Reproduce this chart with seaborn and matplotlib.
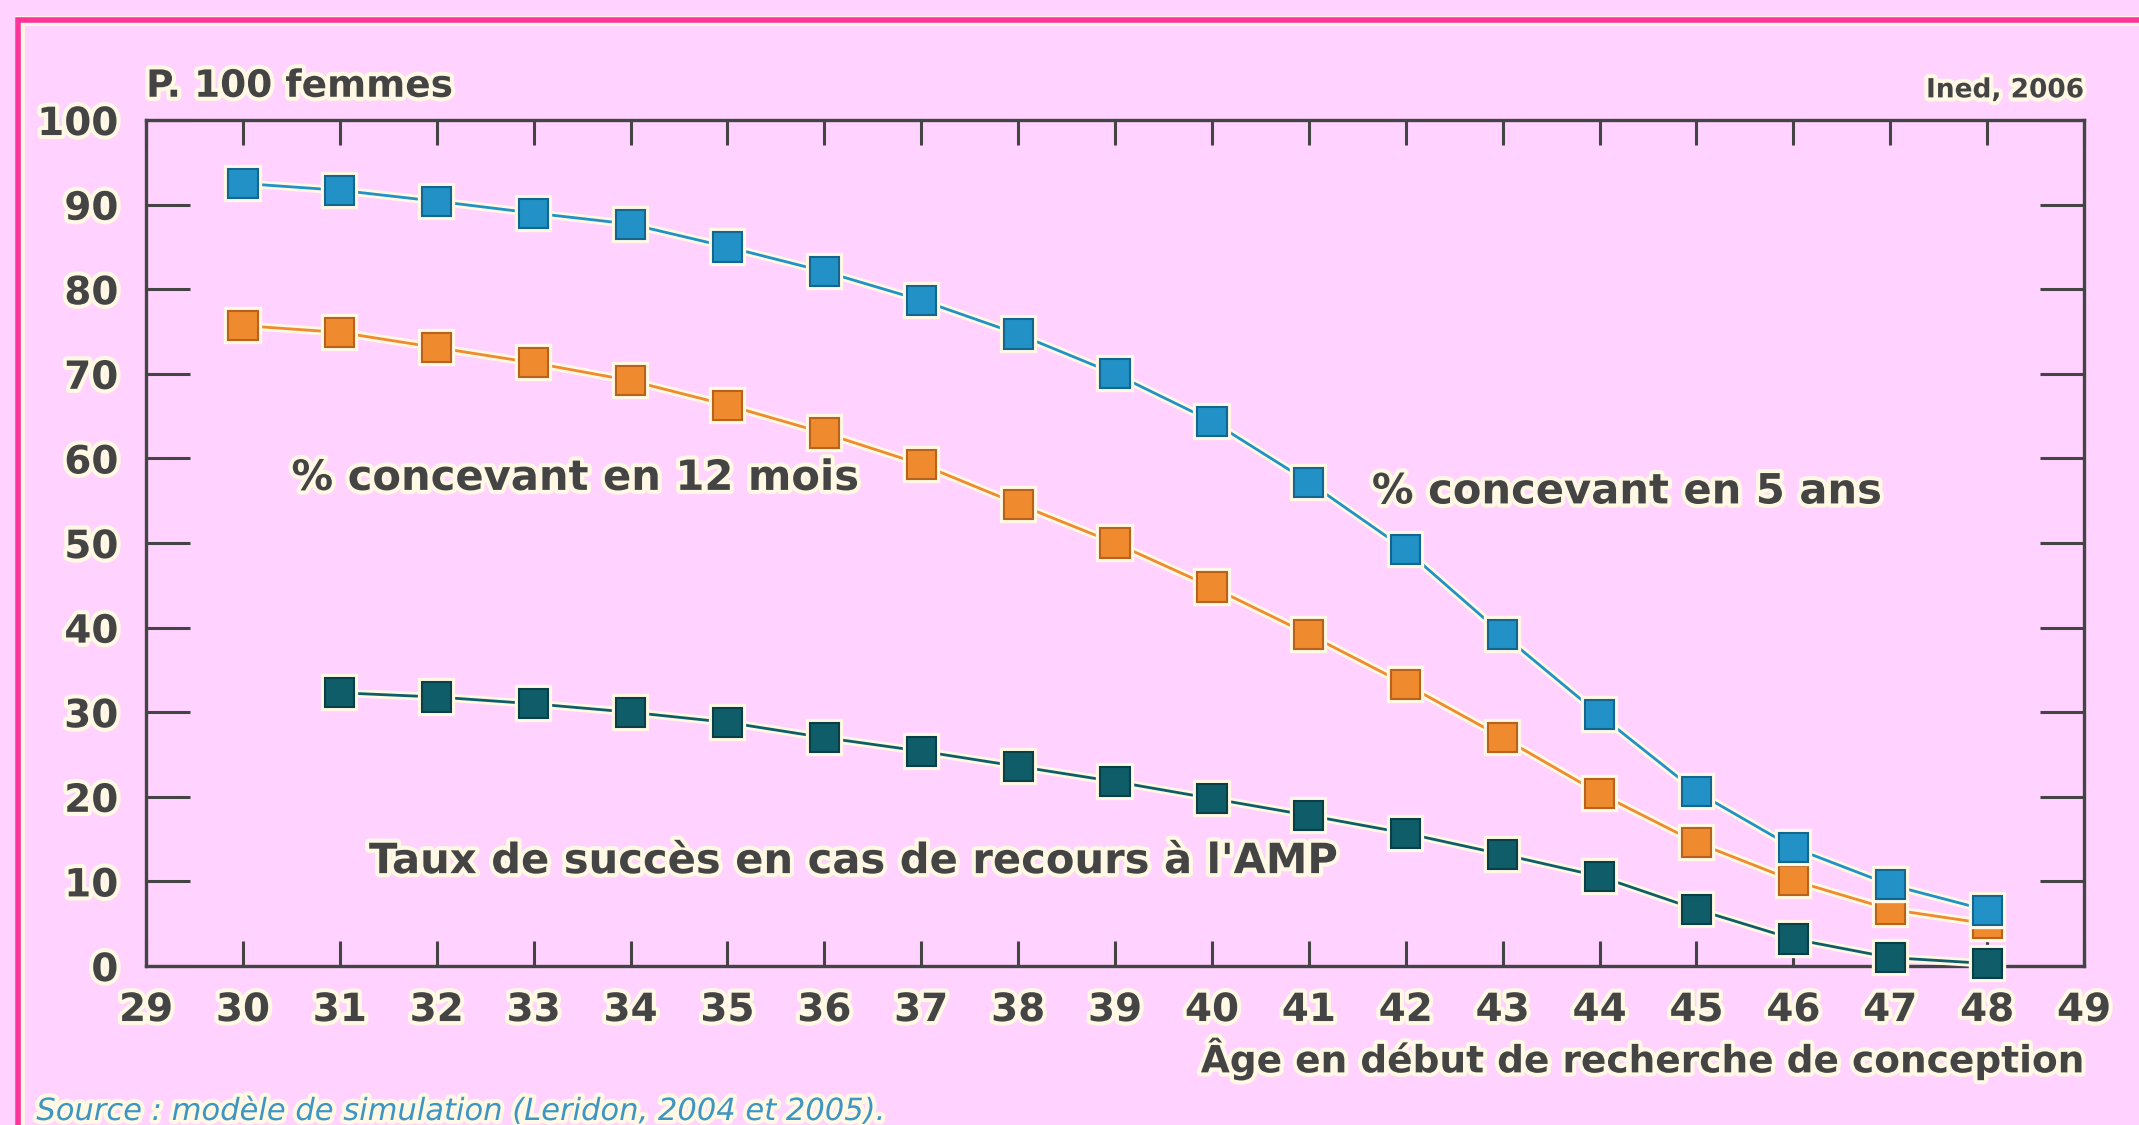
import matplotlib.pyplot as plt
import matplotlib.patheffects as pe
from matplotlib.patches import Rectangle
import seaborn as sns
import pandas as pd

ages = list(range(30, 49))
conc_5ans = [92.5, 91.7, 90.4, 89.0, 87.7, 85.0, 82.1, 78.7, 74.7, 70.0,
             64.4, 57.2, 49.2, 39.2, 29.7, 20.6, 14.0, 9.6, 6.6]
conc_12mois = [75.7, 74.9, 73.1, 71.3, 69.2, 66.3, 63.0, 59.3, 54.6, 50.0,
               44.8, 39.2, 33.3, 27.0, 20.4, 14.6, 10.1, 6.7, 5.0]
ages_amp = list(range(31, 49))
taux_amp = [32.3, 31.8, 31.0, 30.0, 28.8, 27.0, 25.4, 23.6, 21.8, 19.8,
            17.8, 15.7, 13.2, 10.6, 6.7, 3.2, 1.0, 0.3]

series = ["5 ans", "12 mois", "AMP"]
colors = ["#2191c6", "#ef8a2f", "#0f5d68"]
edges = ["#14658f", "#b8621c", "#0a3f47"]
xticks = list(range(29, 50))
yticks = list(range(0, 101, 10))

df = pd.concat([
    pd.DataFrame({"age": ages, "pct": conc_5ans, "serie": "5 ans"}),
    pd.DataFrame({"age": ages, "pct": conc_12mois, "serie": "12 mois"}),
    pd.DataFrame({"age": ages_amp, "pct": taux_amp, "serie": "AMP"}),
])

bg = "#ffd2ff"
cream = "#fff8e4"
ink = "#444444"
halo = [pe.withStroke(linewidth=6, foreground=cream)]

sns.set_style("ticks")
plt.rcParams["font.family"] = ["DejaVu Sans"]

fig = plt.figure(figsize=(21.39, 11.25), dpi=100, facecolor=bg)
ax = fig.add_axes([0.0683, 0.1413, 0.906, 0.752])
ax.set_facecolor(bg)

sns.lineplot(data=df, x="age", y="pct", hue="serie", hue_order=series,
             palette=colors, marker="s", markersize=21, linewidth=2,
             markeredgewidth=1.5, legend=False, ax=ax)
# blue on top, as in the original, and let the last markers spill over the axis
for ln, ec, z in zip(ax.lines, edges, [4, 3.5, 3]):
    ln.set_markeredgecolor(ec)
    ln.set_zorder(z)
    ln.set_clip_on(False)
    ln.set_path_effects([pe.Stroke(linewidth=6, foreground=cream), pe.Normal()])

ax.set_xlim(29, 49)
ax.set_ylim(0, 100)
ax.set_xticks(xticks)
ax.set_yticks(yticks)
ax.tick_params(axis="x", direction="in", length=18, width=2.2, color=ink,
               top=True, labelsize=28, labelcolor=ink, pad=18)
ax.tick_params(axis="y", direction="in", length=32, width=2.2, color=ink,
               right=True, labelsize=28, labelcolor=ink, pad=20)
for lab in ax.get_xticklabels() + ax.get_yticklabels():
    lab.set_path_effects(halo)
    lab.set_fontweight("bold")
for sp in ax.spines.values():
    sp.set_color(ink)
    sp.set_linewidth(2.4)
    sp.set_visible(True)

ax.set_xlabel("Âge en début de recherche de conception", loc="right",
              fontsize=27, fontweight="bold", color=ink, labelpad=6,
              path_effects=halo)
ax.set_ylabel("")

txt = dict(fontsize=30, fontweight="bold", color=ink, path_effects=halo)
ax.text(30.5, 57.7, "% concevant en 12 mois", va="center", **txt)
ax.text(41.65, 56.1, "% concevant en 5 ans", va="center", **txt)
ax.text(31.3, 12.4, "Taux de succès en cas de recours à l'AMP", va="center", **txt)
ax.annotate("P. 100 femmes", xy=(0, 1), xycoords="axes fraction",
            xytext=(0, 11), textcoords="offset points", ha="left", va="bottom",
            fontsize=27, fontweight="bold", color=ink, path_effects=halo)
ax.annotate("Ined, 2006", xy=(1, 1), xycoords="axes fraction",
            xytext=(0, 12), textcoords="offset points", ha="right", va="bottom",
            fontsize=19, fontweight="bold", color=ink, path_effects=halo)

fig.text(0.017, 0.012, "Source : modèle de simulation (Leridon, 2004 et 2005).",
         fontsize=22, style="italic", color="#3d95c4", ha="left", va="center",
         path_effects=halo)

fig.patches.append(Rectangle((0.0095, -0.1), 1.1, 1.081, transform=fig.transFigure,
                             fill=False, edgecolor=cream, linewidth=7))
fig.patches.append(Rectangle((0.0085, -0.1), 1.1, 1.082, transform=fig.transFigure,
                             fill=False, edgecolor="#ff3399", linewidth=4))

fig.savefig("out.png", dpi=100, facecolor=bg)
